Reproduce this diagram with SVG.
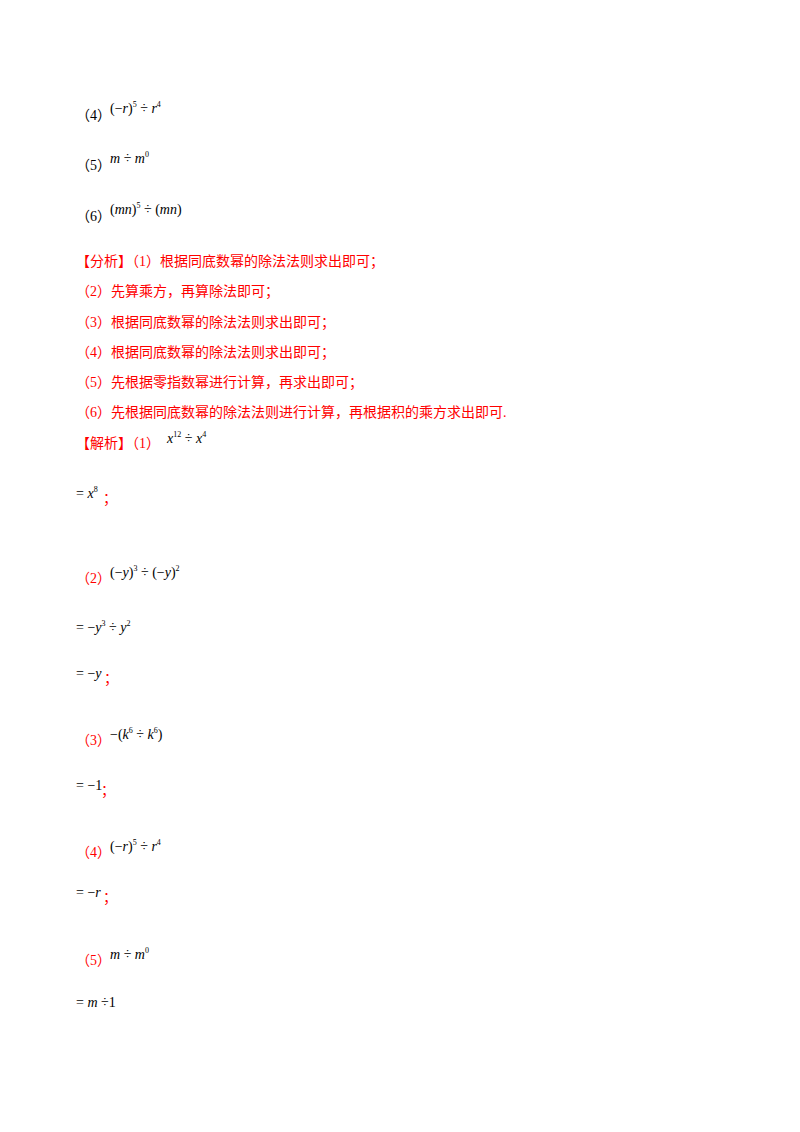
<svg xmlns="http://www.w3.org/2000/svg" width="800" height="1132" viewBox="0 0 800 1132">
<style>
.c{font-family:"Liberation Serif","Noto Sans CJK SC",serif;font-size:14px;fill:#000}
.r{font-family:"Liberation Serif","Noto Sans CJK SC",serif;font-size:14px;fill:#FF0000}
.m{font-family:"Liberation Serif",serif;font-size:14px;fill:#000}
.i{font-style:italic}
.s{font-size:8px}
</style>
<rect width="800" height="1132" fill="#fff"/>
<text class="c" x="76" y="120">（4）</text>
<text class="m" x="110" y="113">(−<tspan class="i">r</tspan>)<tspan class="s" dy="-6">5</tspan><tspan dy="6"> ÷ </tspan><tspan class="i">r</tspan><tspan class="s" dy="-6">4</tspan></text>
<text class="c" x="76" y="170">（5）</text>
<text class="m" x="110" y="163"><tspan class="i">m</tspan> ÷ <tspan class="i">m</tspan><tspan class="s" dy="-6">0</tspan></text>
<text class="c" x="76" y="221">（6）</text>
<text class="m" x="110" y="214">(<tspan class="i">mn</tspan>)<tspan class="s" dy="-6">5</tspan><tspan dy="6"> ÷ (</tspan><tspan class="i">mn</tspan>)</text>
<text class="r" x="76" y="266">【分析】（1）根据同底数幂的除法法则求出即可；</text>
<text class="r" x="76" y="296">（2）先算乘方，再算除法即可；</text>
<text class="r" x="76" y="327">（3）根据同底数幂的除法法则求出即可；</text>
<text class="r" x="76" y="357">（4）根据同底数幂的除法法则求出即可；</text>
<text class="r" x="76" y="387">（5）先根据零指数幂进行计算，再求出即可；</text>
<text class="r" x="76" y="417">（6）先根据同底数幂的除法法则进行计算，再根据积的乘方求出即可.</text>
<text class="r" x="76" y="448">【解析】（1）</text>
<text class="m" x="167" y="443"><tspan class="i">x</tspan><tspan class="s" dy="-6">12</tspan><tspan dy="6"> ÷ </tspan><tspan class="i">x</tspan><tspan class="s" dy="-6">4</tspan></text>
<text class="m" x="76" y="498">= <tspan class="i">x</tspan><tspan class="s" dy="-6">8</tspan></text>
<text class="r" x="103" y="503">；</text>
<text class="r" x="76" y="583">（2）</text>
<text class="m" x="110" y="577">(−<tspan class="i">y</tspan>)<tspan class="s" dy="-6">3</tspan><tspan dy="6"> ÷ (−</tspan><tspan class="i">y</tspan>)<tspan class="s" dy="-6">2</tspan></text>
<text class="m" x="76" y="632">= −<tspan class="i">y</tspan><tspan class="s" dy="-6">3</tspan><tspan dy="6"> ÷ </tspan><tspan class="i">y</tspan><tspan class="s" dy="-6">2</tspan></text>
<text class="m" x="76" y="678">= −<tspan class="i">y</tspan></text>
<text class="r" x="104" y="683">；</text>
<text class="r" x="76" y="745">（3）</text>
<text class="m" x="110" y="739">−(<tspan class="i">k</tspan><tspan class="s" dy="-6">6</tspan><tspan dy="6"> ÷ </tspan><tspan class="i">k</tspan><tspan class="s" dy="-6">6</tspan><tspan dy="6">)</tspan></text>
<text class="m" x="76" y="790">= −1</text>
<text class="r" x="101" y="795">；</text>
<text class="r" x="76" y="857">（4）</text>
<text class="m" x="110" y="851">(−<tspan class="i">r</tspan>)<tspan class="s" dy="-6">5</tspan><tspan dy="6"> ÷ </tspan><tspan class="i">r</tspan><tspan class="s" dy="-6">4</tspan></text>
<text class="m" x="76" y="897">= −<tspan class="i">r</tspan></text>
<text class="r" x="103" y="902">；</text>
<text class="r" x="76" y="965">（5）</text>
<text class="m" x="110" y="959"><tspan class="i">m</tspan> ÷ <tspan class="i">m</tspan><tspan class="s" dy="-6">0</tspan></text>
<text class="m" x="76" y="1007">= <tspan class="i">m</tspan> ÷1</text>
</svg>
